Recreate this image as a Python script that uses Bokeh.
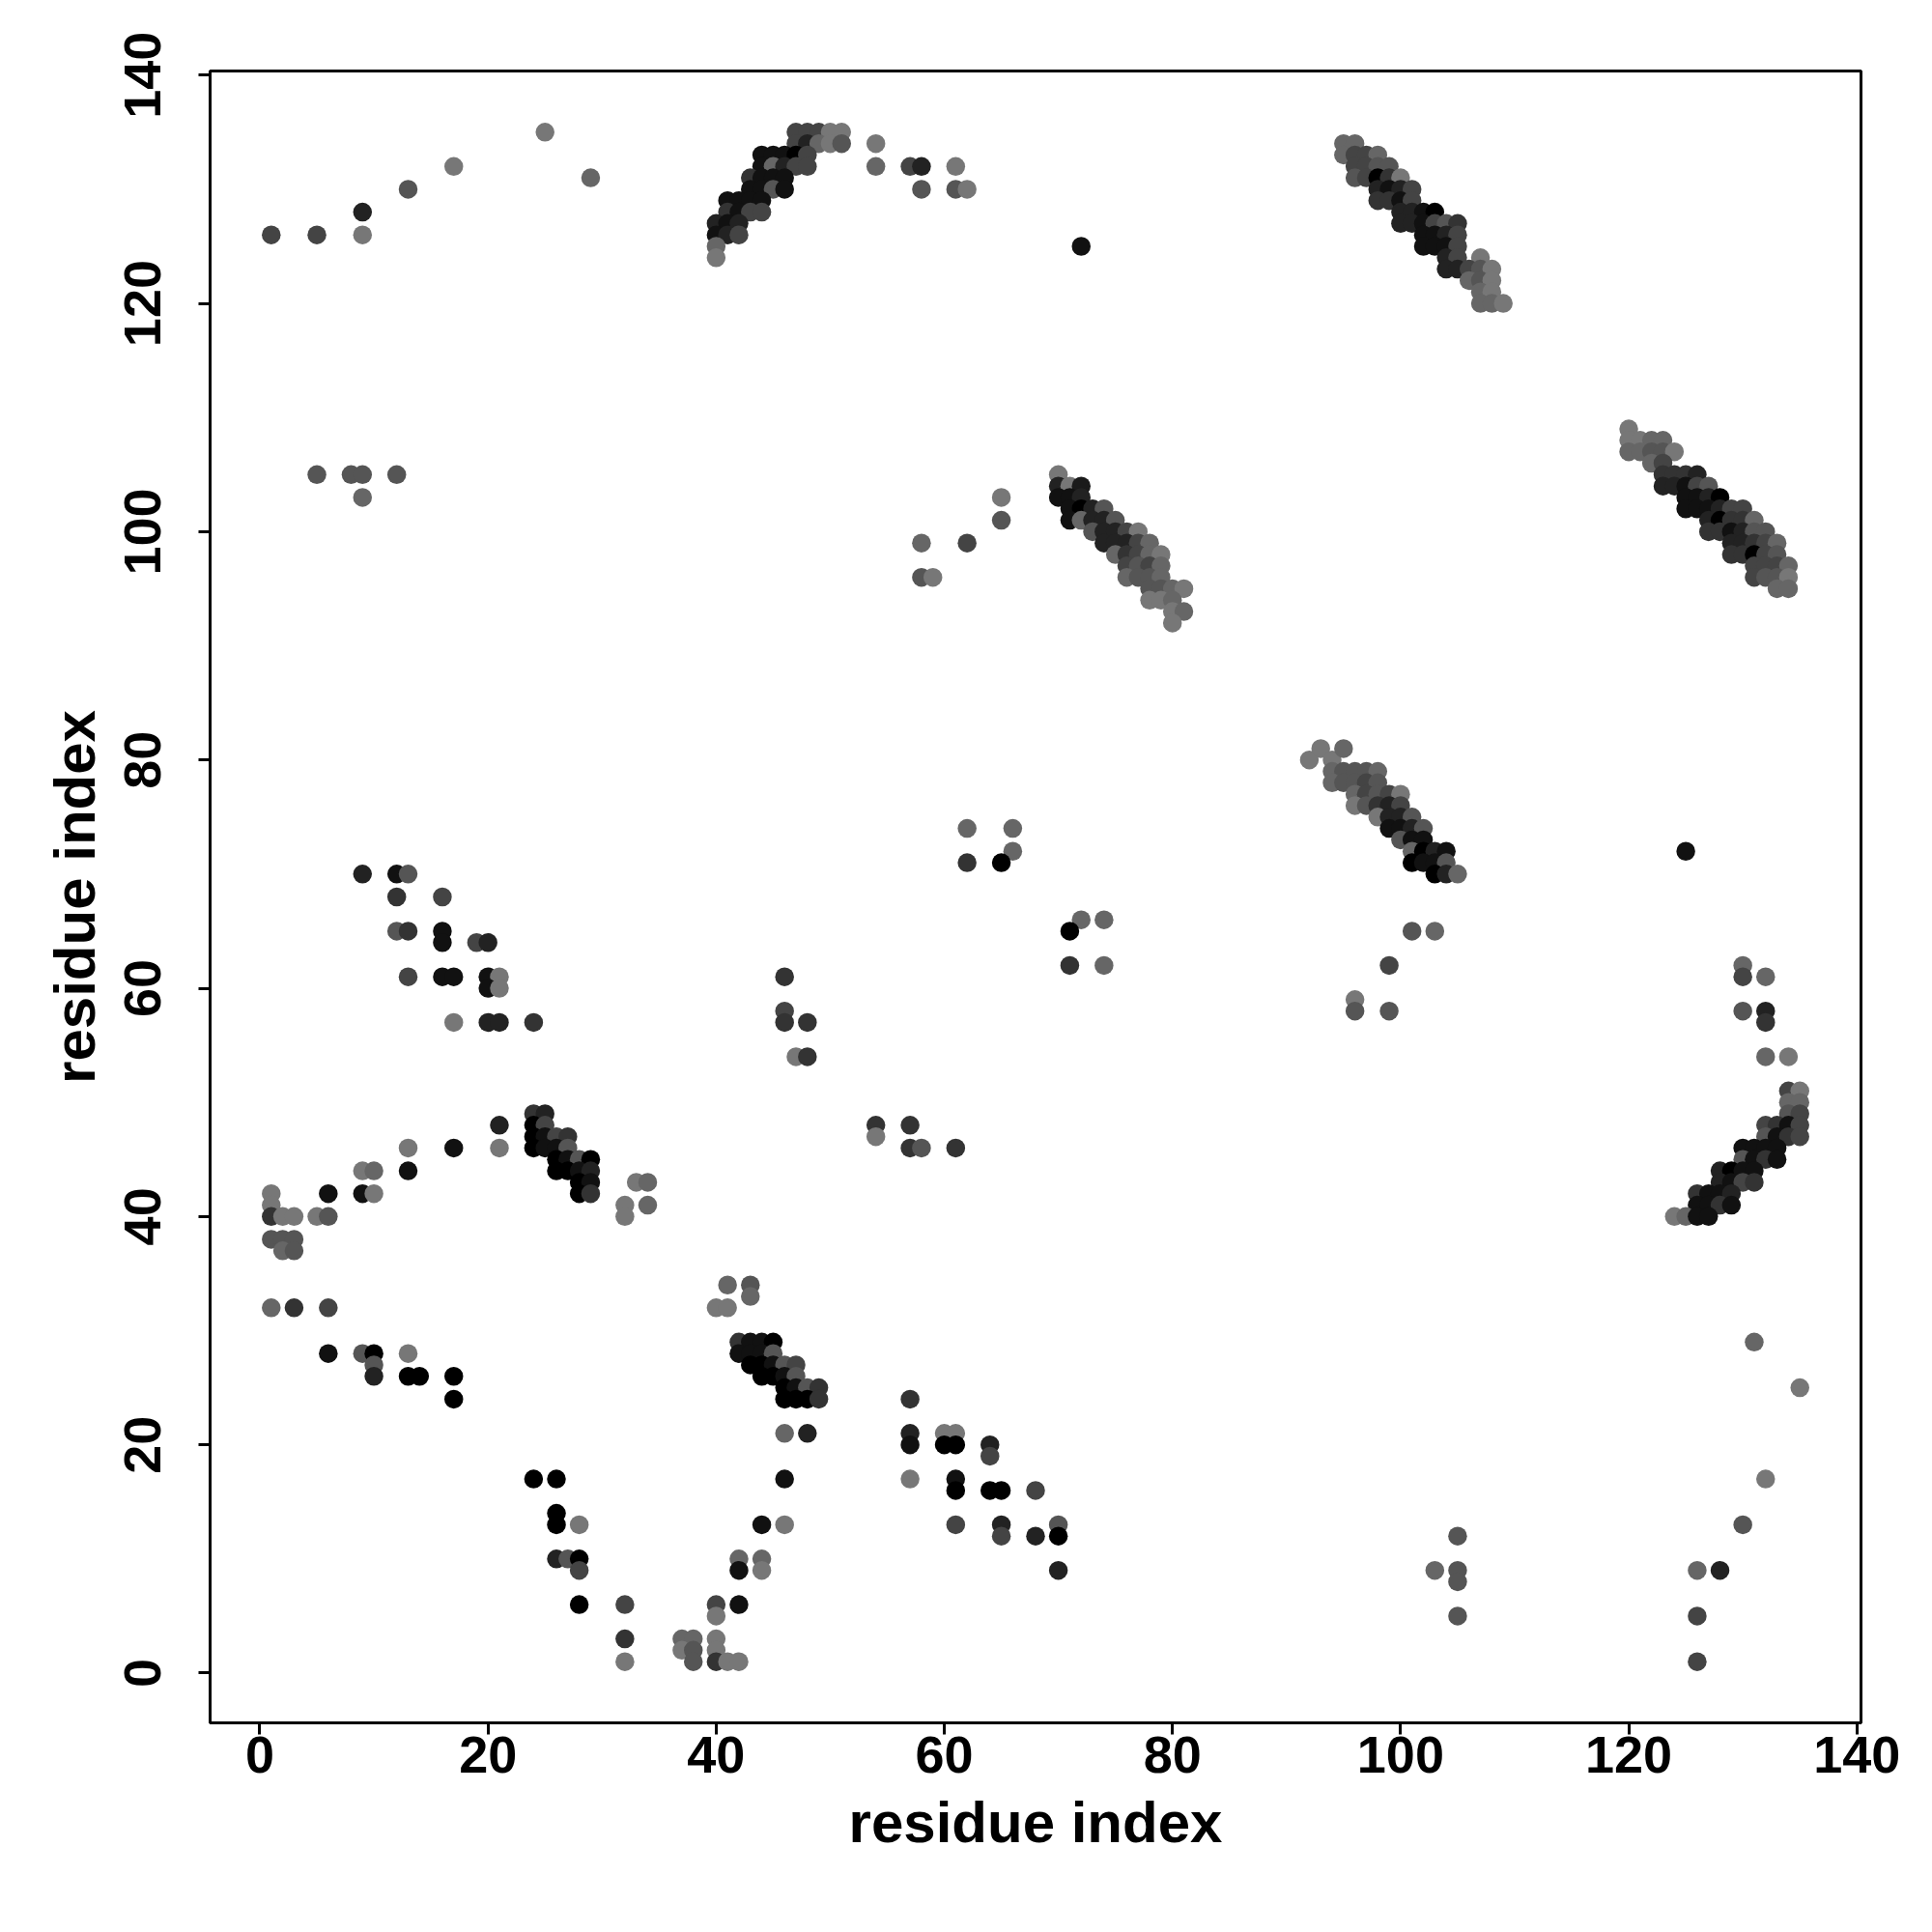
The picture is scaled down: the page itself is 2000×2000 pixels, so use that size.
from bokeh.plotting import figure
from bokeh.models import Range1d, FixedTicker, ColumnDataSource
from bokeh.embed import file_html
from bokeh.resources import INLINE

# Each contact: (residue index i, residue index j, grey level 0-255)
top_left_contacts = [
    (1, 126, 0x44), (5, 126, 0x44), (9, 126, 0x77), (9, 128, 0x22), (13, 130, 0x55),
    (17, 132, 0x77), (25, 135, 0x77), (29, 131, 0x66),
    (5, 105, 0x55), (8, 105, 0x55), (9, 105, 0x55), (12, 105, 0x55), (9, 103, 0x66),
]

arc_40_135 = [
    (47, 135, 0x44), (48, 135, 0x44), (49, 135, 0x44), (50, 135, 0x77), (51, 135, 0x77),
    (47, 134, 0x44), (48, 134, 0x22), (49, 134, 0x66), (50, 134, 0x77), (51, 134, 0x55),
    (44, 133, 0x11), (45, 133, 0x11), (46, 133, 0x11), (47, 133, 0x00), (48, 133, 0x44),
    (44, 132, 0x11), (45, 132, 0x66), (46, 132, 0x22), (47, 132, 0x44), (48, 132, 0x44),
    (43, 131, 0x33), (44, 131, 0x11), (45, 131, 0x11), (46, 131, 0x11),
    (43, 130, 0x11), (44, 130, 0x11), (45, 130, 0x55), (46, 130, 0x11),
    (41, 129, 0x11), (42, 129, 0x11), (43, 129, 0x11), (44, 129, 0x11),
    (41, 128, 0x33), (42, 128, 0x11), (43, 128, 0x44), (44, 128, 0x44),
    (40, 127, 0x22), (41, 127, 0x11), (42, 127, 0x22),
    (40, 126, 0x11), (41, 126, 0x22), (42, 126, 0x44),
    (40, 125, 0x66), (40, 124, 0x77),
]

top_mid_contacts = [
    (54, 134, 0x77), (54, 132, 0x66), (57, 132, 0x44), (58, 132, 0x22), (61, 132, 0x77),
    (58, 130, 0x55), (61, 130, 0x55), (62, 130, 0x77), (72, 125, 0x11),
    (65, 103, 0x77), (65, 101, 0x55), (58, 99, 0x66), (62, 99, 0x44), (58, 96, 0x55), (59, 96, 0x77),
]

band_70_100 = [
    (70, 105, 0x77),
    (70, 104, 0x22), (71, 104, 0x77), (72, 104, 0x1a),
    (70, 103, 0x11), (71, 103, 0x11), (72, 103, 0x22),
    (71, 102, 0x11), (72, 102, 0x00), (73, 102, 0x22), (74, 102, 0x55),
    (71, 101, 0x11), (72, 101, 0x66), (73, 101, 0x22), (74, 101, 0x22), (75, 101, 0x55),
    (73, 100, 0x55), (74, 100, 0x22), (75, 100, 0x22), (76, 100, 0x44), (77, 100, 0x77),
    (74, 99, 0x22), (75, 99, 0x22), (76, 99, 0x22), (77, 99, 0x44), (78, 99, 0x66),
    (75, 98, 0x66), (76, 98, 0x33), (77, 98, 0x44), (78, 98, 0x66), (79, 98, 0x77),
    (76, 97, 0x44), (77, 97, 0x55), (78, 97, 0x44), (79, 97, 0x66),
    (76, 96, 0x66), (77, 96, 0x55), (78, 96, 0x55), (79, 96, 0x66),
    (78, 95, 0x55), (79, 95, 0x55), (80, 95, 0x66), (81, 95, 0x77),
    (78, 94, 0x77), (79, 94, 0x77), (80, 94, 0x66),
    (80, 93, 0x77), (81, 93, 0x66), (80, 92, 0x77),
]

band_95_125 = [
    (95, 134, 0x66), (96, 134, 0x66),
    (95, 133, 0x66), (96, 133, 0x44), (97, 133, 0x44), (98, 133, 0x66),
    (96, 132, 0x44), (97, 132, 0x44), (98, 132, 0x55), (99, 132, 0x55),
    (96, 131, 0x55), (97, 131, 0x44), (98, 131, 0x00), (99, 131, 0x33), (100, 131, 0x77),
    (98, 130, 0x22), (99, 130, 0x11), (100, 130, 0x22), (101, 130, 0x44),
    (98, 129, 0x33), (99, 129, 0x33), (100, 129, 0x11), (101, 129, 0x44),
    (100, 128, 0x22), (101, 128, 0x22), (102, 128, 0x11), (103, 128, 0x00),
    (100, 127, 0x22), (101, 127, 0x22), (102, 127, 0x11), (103, 127, 0x44), (104, 127, 0x55), (105, 127, 0x33),
    (102, 126, 0x11), (103, 126, 0x11), (104, 126, 0x22), (105, 126, 0x44),
    (102, 125, 0x11), (103, 125, 0x11), (104, 125, 0x11), (105, 125, 0x44),
    (104, 124, 0x22), (105, 124, 0x44), (107, 124, 0x77),
    (104, 123, 0x22), (105, 123, 0x22), (106, 123, 0x44), (107, 123, 0x55), (108, 123, 0x77),
    (106, 122, 0x66), (107, 122, 0x55), (108, 122, 0x77),
    (107, 121, 0x66), (108, 121, 0x77),
    (107, 120, 0x66), (108, 120, 0x66), (109, 120, 0x77),
]

band_120_100 = [
    (120, 109, 0x77),
    (120, 108, 0x77), (121, 108, 0x77), (122, 108, 0x66), (123, 108, 0x66),
    (120, 107, 0x66), (121, 107, 0x66), (122, 107, 0x55), (123, 107, 0x55), (124, 107, 0x77),
    (122, 106, 0x66), (123, 106, 0x44),
    (123, 105, 0x33), (124, 105, 0x33), (125, 105, 0x33), (126, 105, 0x22),
    (123, 104, 0x22), (124, 104, 0x22), (125, 104, 0x11), (126, 104, 0x44), (127, 104, 0x55),
    (125, 103, 0x11), (126, 103, 0x11), (127, 103, 0x22), (128, 103, 0x00),
    (125, 102, 0x11), (126, 102, 0x11), (127, 102, 0x11), (128, 102, 0x22), (129, 102, 0x44), (130, 102, 0x44),
    (127, 101, 0x22), (128, 101, 0x00), (129, 101, 0x33), (130, 101, 0x33), (131, 101, 0x66),
    (127, 100, 0x33), (128, 100, 0x33), (129, 100, 0x11), (130, 100, 0x22), (131, 100, 0x55), (132, 100, 0x55),
    (129, 99, 0x22), (130, 99, 0x22), (131, 99, 0x33), (132, 99, 0x44), (133, 99, 0x66),
    (129, 98, 0x33), (130, 98, 0x33), (131, 98, 0x00), (132, 98, 0x44), (133, 98, 0x55),
    (131, 97, 0x44), (132, 97, 0x44), (133, 97, 0x44), (134, 97, 0x66),
    (131, 96, 0x44), (132, 96, 0x55), (133, 96, 0x55), (134, 96, 0x77),
    (133, 95, 0x66), (134, 95, 0x66),
]

mid_left_contacts = [
    (9, 70, 0x22), (12, 70, 0x11), (13, 70, 0x55), (12, 68, 0x33), (16, 68, 0x44),
    (12, 65, 0x55), (13, 65, 0x33), (16, 65, 0x11), (16, 64, 0x11), (19, 64, 0x44), (20, 64, 0x22),
    (13, 61, 0x44), (16, 61, 0x11), (17, 61, 0x11), (20, 61, 0x11), (21, 61, 0x77),
    (20, 60, 0x11), (21, 60, 0x77), (17, 57, 0x77), (20, 57, 0x22), (21, 57, 0x22), (24, 57, 0x33),
]

cluster_25_45 = [
    (24, 49, 0x33), (25, 49, 0x22),
    (24, 48, 0x00), (25, 48, 0x44),
    (24, 47, 0x00), (25, 47, 0x11), (26, 47, 0x44), (27, 47, 0x33),
    (24, 46, 0x00), (25, 46, 0x11), (26, 46, 0x11), (27, 46, 0x55),
    (26, 45, 0x00), (27, 45, 0x11), (28, 45, 0x55), (29, 45, 0x00),
    (26, 44, 0x00), (27, 44, 0x00), (28, 44, 0x11), (29, 44, 0x22),
    (28, 43, 0x00), (29, 43, 0x11),
    (28, 42, 0x00), (29, 42, 0x33),
]

low_left_contacts = [
    (21, 48, 0x22), (13, 46, 0x77), (17, 46, 0x11), (21, 46, 0x77), (9, 44, 0x77), (10, 44, 0x66),
    (13, 44, 0x11), (33, 43, 0x77), (34, 43, 0x66), (32, 41, 0x77), (34, 41, 0x66), (32, 40, 0x77),
    (1, 42, 0x77), (6, 42, 0x11), (9, 42, 0x11), (10, 42, 0x77), (1, 41, 0x77), (1, 40, 0x33),
    (2, 40, 0x77), (3, 40, 0x77), (5, 40, 0x77), (6, 40, 0x55),
    (1, 38, 0x55), (2, 38, 0x55), (3, 38, 0x55), (2, 37, 0x66), (3, 37, 0x55),
    (1, 32, 0x66), (3, 32, 0x33), (6, 32, 0x44),
    (6, 28, 0x11), (9, 28, 0x55), (10, 28, 0x00), (13, 28, 0x77), (10, 27, 0x55), (10, 26, 0x22),
    (13, 26, 0x00), (14, 26, 0x00), (17, 26, 0x00), (17, 24, 0x00),
    (24, 17, 0x00), (26, 17, 0x00), (26, 14, 0x00), (26, 13, 0x00), (28, 13, 0x77),
    (26, 10, 0x22), (27, 10, 0x55), (28, 10, 0x00), (28, 9, 0x44), (28, 6, 0x00),
    (32, 6, 0x44), (32, 3, 0x33), (32, 1, 0x77), (37, 3, 0x66), (38, 3, 0x66), (37, 2, 0x77),
    (38, 2, 0x55), (38, 1, 0x55), (40, 6, 0x44), (40, 5, 0x77), (40, 3, 0x77), (40, 2, 0x77),
    (40, 1, 0x33), (41, 1, 0x77), (42, 1, 0x77), (42, 6, 0x11), (44, 13, 0x11), (42, 10, 0x66),
    (42, 9, 0x11), (44, 10, 0x66), (44, 9, 0x77),
    (41, 34, 0x66), (43, 34, 0x55), (43, 33, 0x66), (40, 32, 0x77), (41, 32, 0x77),
]

cluster_45_25 = [
    (42, 29, 0x33), (43, 29, 0x11), (44, 29, 0x11), (45, 29, 0x00),
    (42, 28, 0x11), (43, 28, 0x11), (44, 28, 0x11), (45, 28, 0x55),
    (43, 27, 0x00), (44, 27, 0x00), (45, 27, 0x11), (46, 27, 0x55), (47, 27, 0x44),
    (44, 26, 0x00), (45, 26, 0x00), (46, 26, 0x11), (47, 26, 0x55),
    (46, 25, 0x00), (47, 25, 0x11), (48, 25, 0x55), (49, 25, 0x33),
    (46, 24, 0x00), (47, 24, 0x00), (48, 24, 0x00), (49, 24, 0x33),
]

low_mid_contacts = [
    (57, 24, 0x33), (46, 21, 0x66), (48, 21, 0x22), (57, 21, 0x22), (57, 20, 0x11),
    (60, 21, 0x77), (61, 21, 0x77), (60, 20, 0x00), (61, 20, 0x00), (64, 20, 0x22), (64, 19, 0x44),
    (46, 17, 0x11), (57, 17, 0x77), (61, 17, 0x11), (61, 16, 0x00), (64, 16, 0x00), (65, 16, 0x00),
    (68, 16, 0x44), (46, 13, 0x77), (61, 13, 0x44), (65, 13, 0x22), (65, 12, 0x44), (68, 12, 0x22),
    (70, 13, 0x55), (70, 12, 0x00), (70, 9, 0x22),
]

center_contacts = [
    (62, 74, 0x66), (66, 74, 0x66), (66, 72, 0x66), (62, 71, 0x33), (65, 71, 0x00),
    (72, 66, 0x66), (74, 66, 0x66), (71, 65, 0x00), (71, 62, 0x33), (74, 62, 0x66),
    (46, 61, 0x33), (46, 58, 0x44), (46, 57, 0x33), (48, 57, 0x33), (47, 54, 0x77), (48, 54, 0x33),
    (54, 48, 0x33), (54, 47, 0x77), (57, 48, 0x33), (57, 46, 0x33), (58, 46, 0x55), (61, 46, 0x33),
]

band_95_75 = [
    (92, 80, 0x77), (93, 81, 0x77), (94, 80, 0x77), (95, 81, 0x66),
    (94, 79, 0x66), (95, 79, 0x55), (96, 79, 0x55), (97, 79, 0x55), (98, 79, 0x66),
    (94, 78, 0x66), (95, 78, 0x55), (96, 78, 0x55), (97, 78, 0x44), (98, 78, 0x55),
    (96, 77, 0x66), (97, 77, 0x44), (98, 77, 0x55), (99, 77, 0x44), (100, 77, 0x77),
    (96, 76, 0x77), (97, 76, 0x55), (98, 76, 0x33), (99, 76, 0x22), (100, 76, 0x44),
    (98, 75, 0x77), (99, 75, 0x22), (100, 75, 0x22), (101, 75, 0x55),
    (99, 74, 0x11), (100, 74, 0x11), (101, 74, 0x22), (102, 74, 0x55),
    (100, 73, 0x55), (101, 73, 0x11), (102, 73, 0x11),
    (101, 72, 0x66), (102, 72, 0x00), (103, 72, 0x22), (104, 72, 0x11),
    (101, 71, 0x00), (102, 71, 0x11), (103, 71, 0x11), (104, 71, 0x55),
    (103, 70, 0x00), (104, 70, 0x22), (105, 70, 0x66),
]

right_mid_contacts = [
    (125, 72, 0x11), (101, 65, 0x55), (103, 65, 0x66), (99, 62, 0x44), (96, 59, 0x77),
    (96, 58, 0x55), (99, 58, 0x55), (130, 62, 0x66), (130, 61, 0x44), (132, 61, 0x66),
    (130, 58, 0x55), (132, 58, 0x22), (132, 57, 0x33), (132, 54, 0x66), (134, 54, 0x77),
]

arc_130_45 = [
    (134, 51, 0x44), (135, 51, 0x77),
    (134, 50, 0x66), (135, 50, 0x66),
    (134, 49, 0x55), (135, 49, 0x44),
    (132, 48, 0x44), (133, 48, 0x33), (134, 48, 0x11), (135, 48, 0x44),
    (132, 47, 0x55), (133, 47, 0x11), (134, 47, 0x33), (135, 47, 0x44),
    (130, 46, 0x11), (131, 46, 0x11), (132, 46, 0x11), (133, 46, 0x11),
    (130, 45, 0x55), (131, 45, 0x11), (132, 45, 0x33), (133, 45, 0x11),
    (128, 44, 0x22), (129, 44, 0x00), (130, 44, 0x11), (131, 44, 0x11),
    (128, 43, 0x22), (129, 43, 0x11), (130, 43, 0x44), (131, 43, 0x33),
    (126, 42, 0x33), (127, 42, 0x11), (128, 42, 0x11), (129, 42, 0x22),
    (126, 41, 0x11), (127, 41, 0x11), (128, 41, 0x33), (129, 41, 0x11),
    (124, 40, 0x77), (125, 40, 0x66), (126, 40, 0x11), (127, 40, 0x11),
]

low_right_contacts = [
    (131, 29, 0x66), (135, 25, 0x77), (132, 17, 0x77), (130, 13, 0x55), (126, 9, 0x66),
    (128, 9, 0x22), (126, 5, 0x44), (126, 1, 0x44), (105, 12, 0x55), (103, 9, 0x66),
    (105, 9, 0x55), (105, 8, 0x55), (105, 5, 0x55),
]

tick_values = [0, 20, 40, 60, 80, 100, 120, 140]

groups = [top_left_contacts, arc_40_135, top_mid_contacts, band_70_100, band_95_125,
          band_120_100, mid_left_contacts, cluster_25_45, low_left_contacts, cluster_45_25,
          low_mid_contacts, center_contacts, band_95_75, right_mid_contacts, arc_130_45,
          low_right_contacts]

xs, ys, cols = [], [], []
for g in groups:
    for (i, j, s) in g:
        xs.append(i)
        ys.append(j)
        cols.append("#%02x%02x%02x" % (s, s, s))

src = ColumnDataSource(dict(x=xs, y=ys, color=cols))

FONT = "Liberation Sans"

p = figure(frame_width=1709, frame_height=1710,
           x_range=Range1d(-4.36, 140.36), y_range=Range1d(-4.36, 140.36),
           output_backend="svg", toolbar_location=None,
           min_border_left=217, min_border_top=73, min_border_right=60, min_border_bottom=150,
           background_fill_color="white", border_fill_color="white")

p.scatter(x="x", y="y", source=src, size=19.5, fill_color="color", line_color=None)

p.outline_line_color = "black"
p.outline_line_width = 3
p.xgrid.visible = False
p.ygrid.visible = False

for ax in (p.xaxis[0], p.yaxis[0]):
    ax.ticker = FixedTicker(ticks=tick_values)
    ax.minor_tick_line_color = None
    ax.major_tick_in = 0
    ax.major_tick_out = 12
    ax.major_tick_line_width = 3
    ax.major_tick_line_color = "black"
    ax.axis_line_width = 3
    ax.axis_line_color = "black"
    ax.major_label_text_font = FONT
    ax.major_label_text_font_style = "bold"
    ax.major_label_text_font_size = "54px"
    ax.major_label_text_color = "black"
    ax.axis_label = "residue index"
    ax.axis_label_text_font = FONT
    ax.axis_label_text_font_style = "bold"
    ax.axis_label_text_font_size = "60px"
    ax.axis_label_text_color = "black"

p.xaxis.major_label_standoff = 2
p.xaxis.axis_label_standoff = 15
p.yaxis.major_label_orientation = "parallel"
p.yaxis.major_label_standoff = 39
p.yaxis.axis_label_standoff = 16

open("out.html", "w").write(file_html(p, INLINE))
